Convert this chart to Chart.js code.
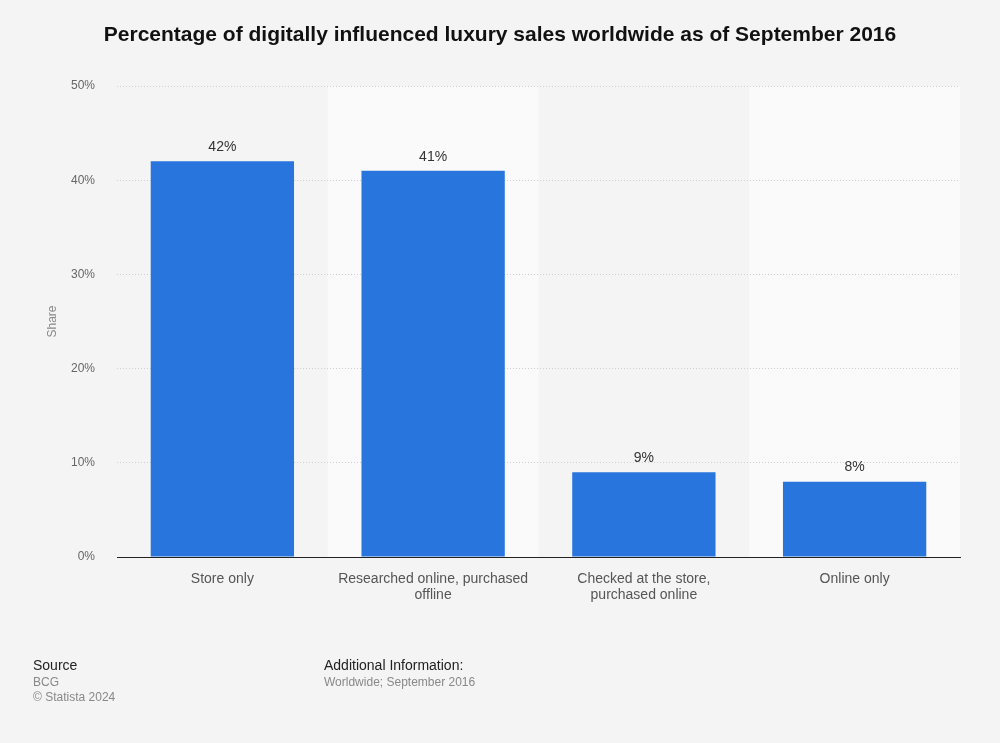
<!DOCTYPE html>
<html><head><meta charset="utf-8">
<script src="https://cdn.jsdelivr.net/npm/chart.js@4"></script>
<style>
html,body{margin:0;padding:0;background:#f4f4f4;}
#wrap{position:relative;width:1000px;height:743px;font-family:"Liberation Sans",Arial,sans-serif;}
canvas{position:absolute;left:0;top:0;}
.t{position:absolute;white-space:nowrap;}
</style></head>
<body><div id="wrap">
<canvas id="c" width="1000" height="743"></canvas>
<div class="t" style="left:0;width:1000px;text-align:center;top:22px;font-size:21px;font-weight:bold;color:#111;">Percentage of digitally influenced luxury sales worldwide as of September 2016</div>
<div class="t" style="left:33px;top:657px;font-size:14px;color:#222;">Source</div>
<div class="t" style="left:33px;top:675px;font-size:12px;color:#888;">BCG</div>
<div class="t" style="left:33px;top:690px;font-size:12px;color:#888;">© Statista 2024</div>
<div class="t" style="left:324px;top:657px;font-size:14px;color:#222;">Additional Information:</div>
<div class="t" style="left:324px;top:675px;font-size:12px;color:#888;">Worldwide; September 2016</div>
</div>
<script>
const categories = [
  ["Store only"],
  ["Researched online, purchased", "offline"],
  ["Checked at the store,", "purchased online"],
  ["Online only"]
];
const shareValues = [42, 41, 9, 8];
const yTicks = [0, 10, 20, 30, 40, 50];

const bandPlugin = {
  id: 'bands',
  beforeDraw(chart) {
    const {ctx, chartArea, scales} = chart;
    const x = scales.x;
    const n = categories.length;
    const w = (chartArea.right - chartArea.left) / n;
    ctx.save();
    ctx.fillStyle = '#fafafa';
    for (let i = 0; i < n; i++) {
      if (i % 2 === 1) {
        const cx = x.getPixelForValue(i);
        ctx.fillRect(cx - w / 2, chartArea.top, w, chartArea.bottom - chartArea.top);
      }
    }
    ctx.restore();
  }
};
const labelPlugin = {
  id: 'vlabels',
  afterDatasetsDraw(chart) {
    const {ctx} = chart;
    const meta = chart.getDatasetMeta(0);
    ctx.save();
    ctx.font = '14px "Liberation Sans", Arial, sans-serif';
    ctx.fillStyle = '#333';
    ctx.textAlign = 'center';
    ctx.textBaseline = 'bottom';
    meta.data.forEach((bar, i) => {
      ctx.fillText(shareValues[i] + '%', bar.x, bar.y - 7);
    });
    ctx.restore();
  }
};

new Chart(document.getElementById('c'), {
  type: 'bar',
  data: {
    labels: categories,
    datasets: [{
      data: shareValues,
      backgroundColor: '#2876dd',
      borderWidth: 0,
      categoryPercentage: 1.0,
      barPercentage: 0.68
    }]
  },
  options: {
    responsive: false,
    animation: false,
    devicePixelRatio: 1,
    layout: {padding: {left: 0, right: 40, top: 86, bottom: 0}},
    plugins: {legend: {display: false}, tooltip: {enabled: false}, title: {display: false}},
    font: {family: '"Liberation Sans", Arial, sans-serif'},
    scales: {
      x: {
        grid: {display: false, drawTicks: false},
        border: {display: true, color: '#222', width: 1},
        ticks: {
          color: '#555',
          font: {size: 14, family: '"Liberation Sans", Arial, sans-serif', lineHeight: 1.15},
          padding: 14,
          maxRotation: 0,
          autoSkip: false
        },
        afterFit(s) { s.height = 186; }
      },
      y: {
        min: 0, max: 50,
        afterBuildTicks(s) { s.ticks = yTicks.map(v => ({value: v})); },
        grid: {color: '#cfcfcf', drawTicks: false, lineWidth: 1},
        border: {display: false, dash: [1, 2]},
        ticks: {
          color: '#666',
          font: {size: 12, family: '"Liberation Sans", Arial, sans-serif'},
          padding: 22,
          callback: v => v + '%'
        },
        title: {
          display: true,
          text: 'Share',
          color: '#888',
          font: {size: 12, family: '"Liberation Sans", Arial, sans-serif'},
          padding: {top: 45, bottom: 0}
        },
        afterFit(s) { s.width = 117; }
      }
    }
  },
  plugins: [bandPlugin, labelPlugin]
});
</script>
</body></html>
